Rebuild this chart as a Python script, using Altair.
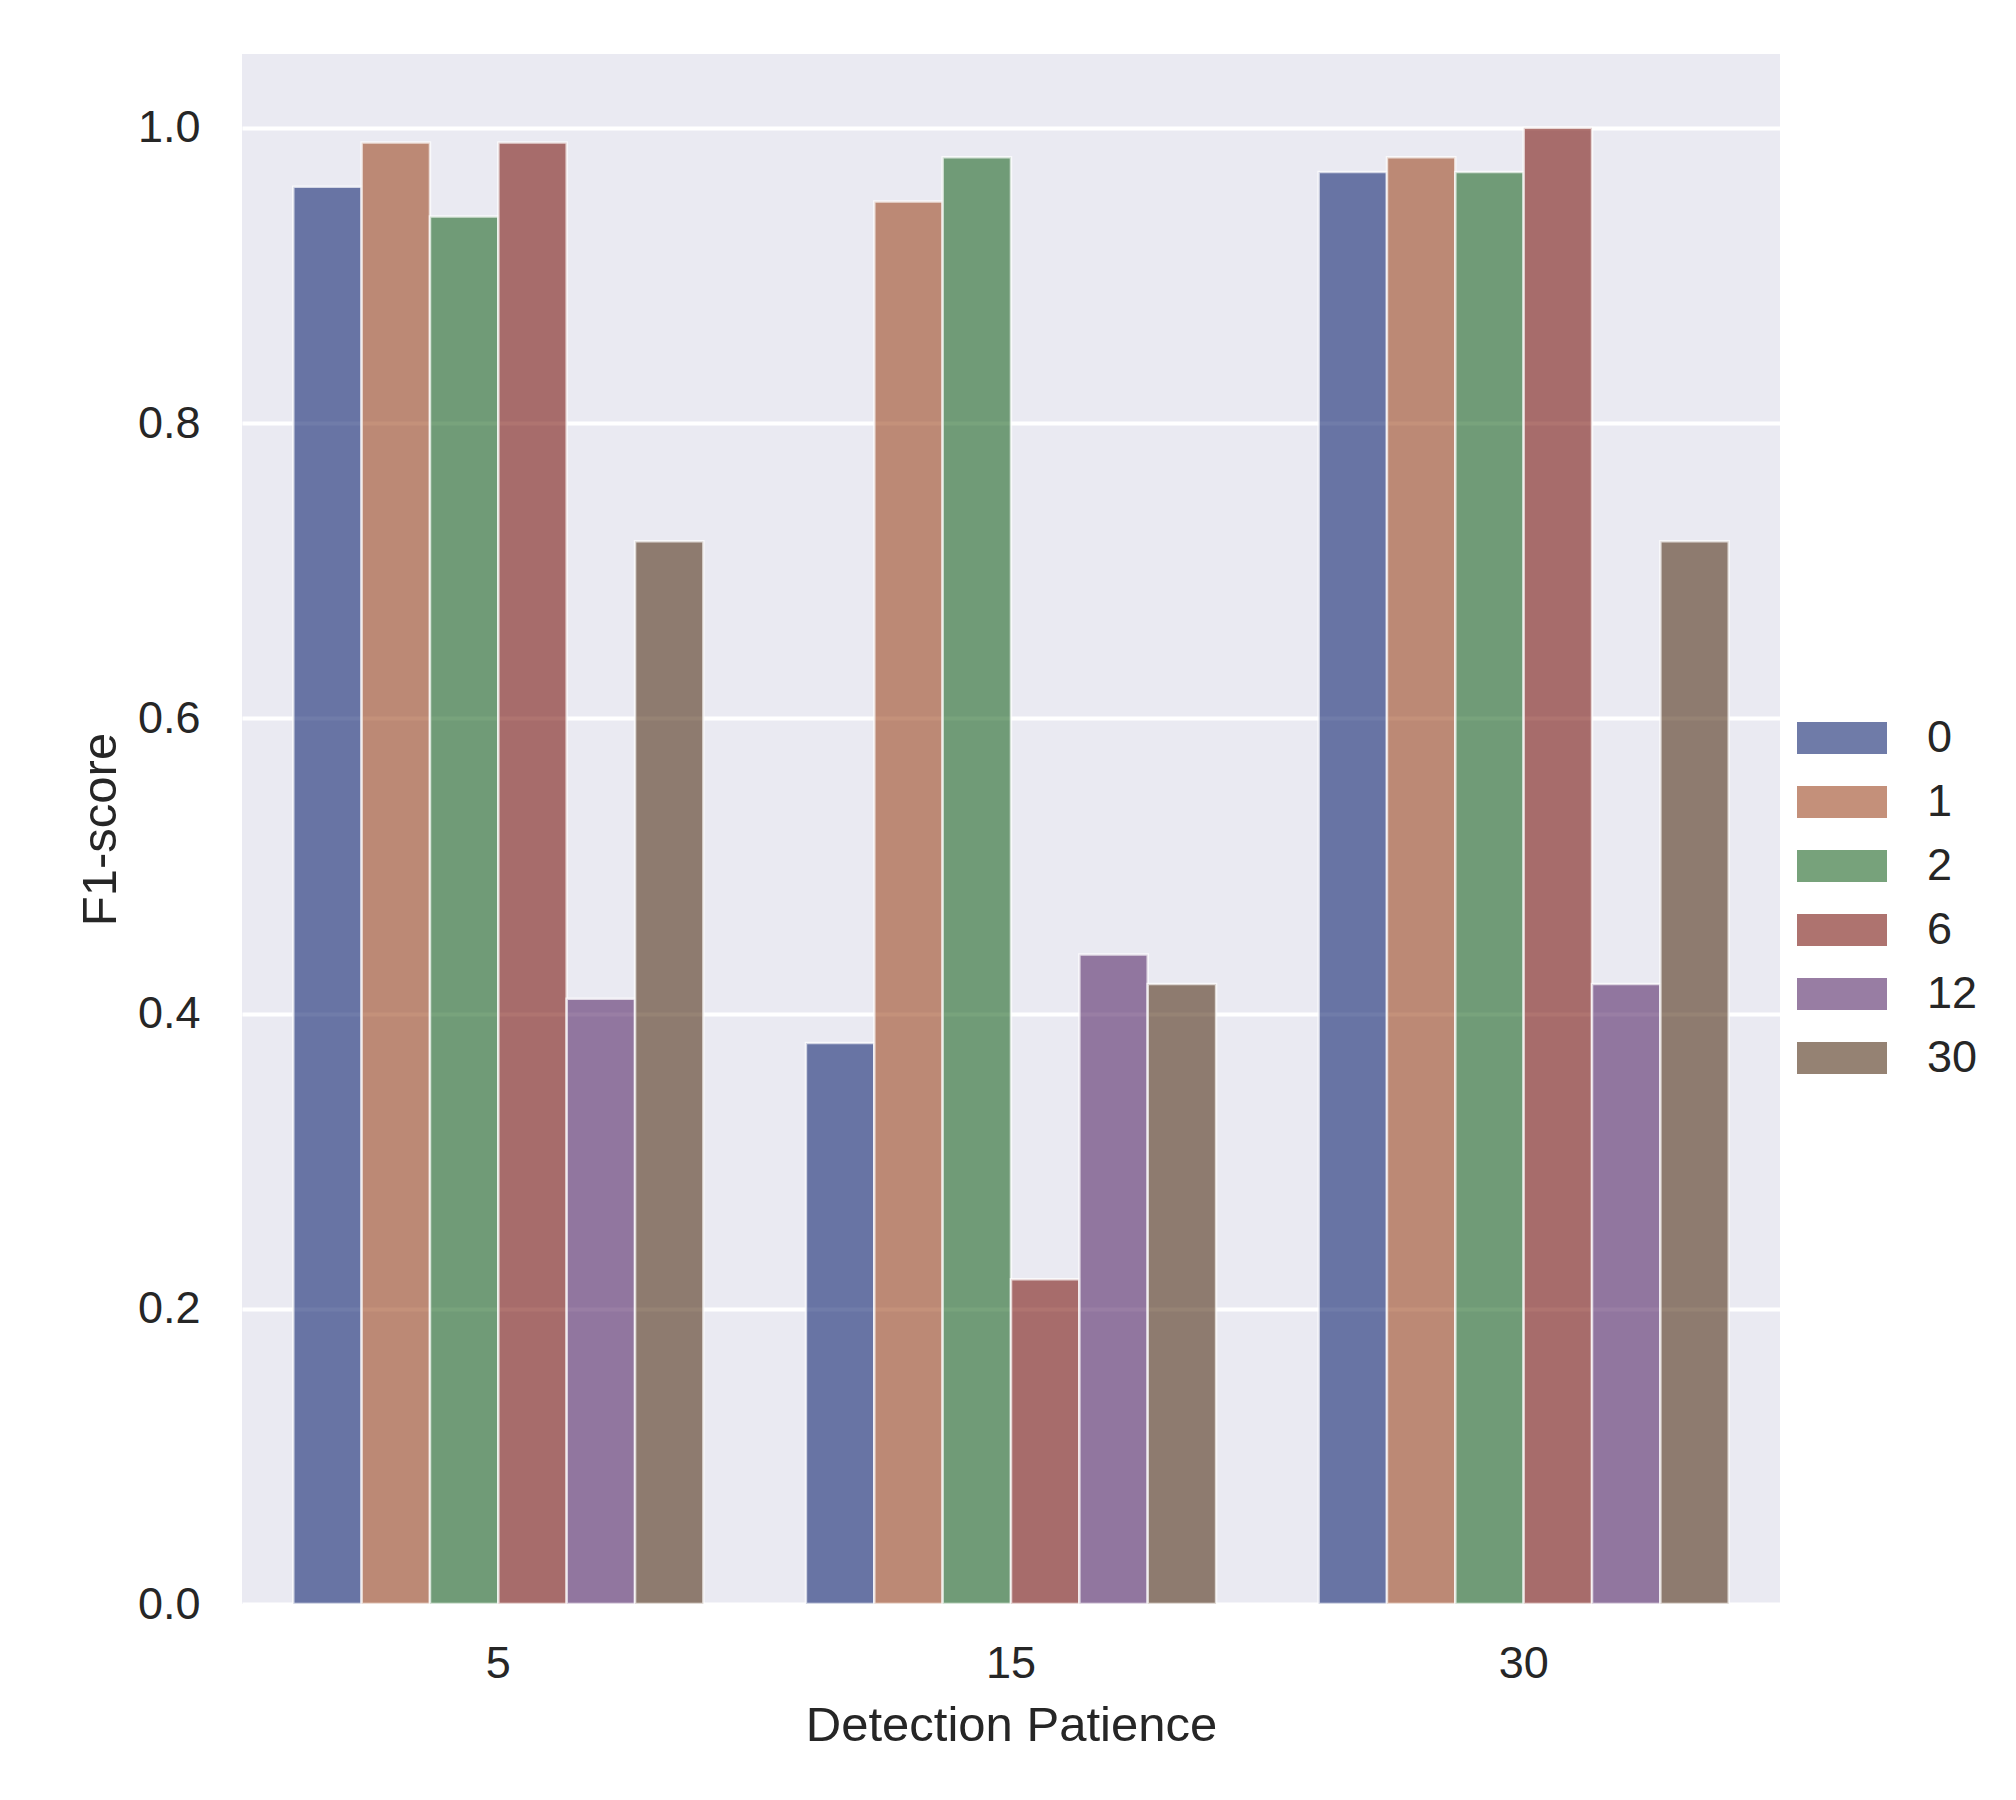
import altair as alt
import pandas as pd

patience = ["5", "15", "30"]
hues = ["0", "1", "2", "6", "12", "30"]
f1_p5 = [0.96, 0.99, 0.94, 0.99, 0.41, 0.72]
f1_p15 = [0.38, 0.95, 0.98, 0.22, 0.44, 0.42]
f1_p30 = [0.97, 0.98, 0.97, 1.00, 0.42, 0.72]
colors = ["#10256f", "#9d4822", "#1e6525", "#7a1711", "#552867", "#503017"]
y_ticks = [0.0, 0.2, 0.4, 0.6, 0.8, 1.0]

rows = []
for p, vals in zip(patience, [f1_p5, f1_p15, f1_p30]):
    for h, v in zip(hues, vals):
        rows.append({"patience": p, "hue": h, "f1": v})
df = pd.DataFrame(rows)

W, H = 1538, 1550
TXT = "#262626"

chart = alt.Chart(df).mark_bar(
    fillOpacity=0.6, stroke="white", strokeWidth=2.5, strokeOpacity=0.7
).encode(
    x=alt.X("patience:N", sort=patience,
            scale=alt.Scale(paddingInner=0.2, paddingOuter=0.1),
            axis=alt.Axis(title="Detection Patience", labelAngle=0, ticks=False,
                          domain=False, grid=False, labelPadding=37,
                          labelFontSize=45, titleFontSize=49, titleY=97,
                          titleBaseline="top", labelColor=TXT, titleColor=TXT,
                          titleFontWeight="normal")),
    xOffset=alt.XOffset("hue:N", sort=hues,
                        scale=alt.Scale(paddingInner=0, paddingOuter=0)),
    y=alt.Y("f1:Q", scale=alt.Scale(domain=[0, 1.05], nice=False, zero=True),
            axis=alt.Axis(title="F1-score", values=y_ticks, format=".1f",
                          ticks=False, domain=False, labelPadding=42,
                          labelFontSize=45, titleFontSize=49,
                          titleX=-127, titleY=H / 2, titleAngle=270,
                          titleBaseline="alphabetic", titleAlign="center",
                          gridColor="white", gridWidth=4, gridOpacity=1,
                          labelColor=TXT, titleColor=TXT,
                          titleFontWeight="normal")),
    color=alt.Color("hue:N", sort=hues,
                    scale=alt.Scale(domain=hues, range=colors),
                    legend=alt.Legend(title=None, orient="none",
                                      legendX=1553, legendY=653,
                                      symbolType="M-1,-0.37H1V0.37H-1Z",
                                      symbolSize=8464, symbolOpacity=0.6,
                                      symbolStrokeColor="white",
                                      symbolStrokeWidth=2,
                                      labelFontSize=45, labelOffset=38,
                                      labelColor=TXT, rowPadding=2,
                                      clipHeight=62,
                                      padding=0)),
).properties(
    width=W, height=H,
    padding={"left": 234, "top": 46, "right": 220, "bottom": 188},
    autosize=alt.AutoSizeParams(type="none"),
    background="white",
).configure(
    font="Liberation Sans"
).configure_view(
    fill="#eaeaf2", strokeWidth=0
)

chart.save("out.html", embed_options={"renderer": "svg", "actions": False})
